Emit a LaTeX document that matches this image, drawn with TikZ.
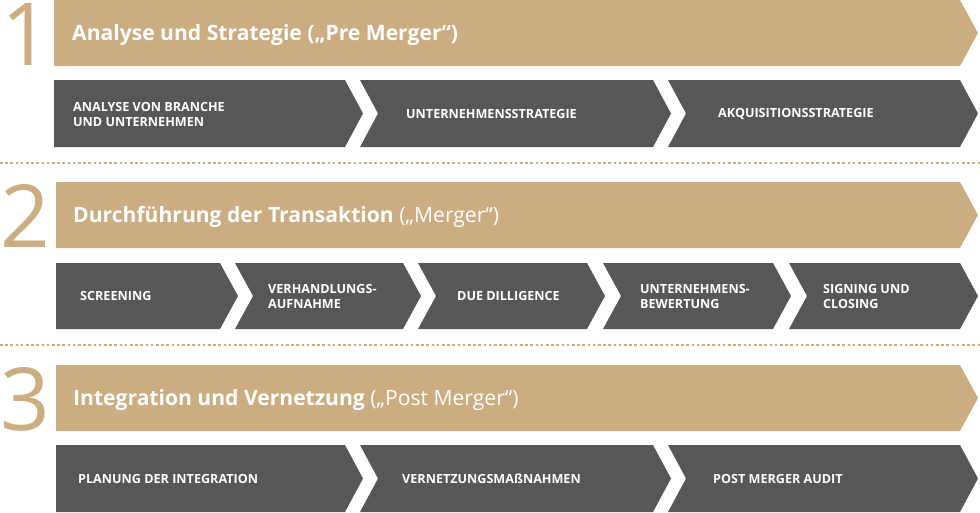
\documentclass[tikz,border=0pt]{standalone}
\usepackage{fontspec}
\setmainfont{Open Sans}
\definecolor{tan}{HTML}{CCAD81}
\definecolor{dgrey}{HTML}{575757}
\begin{document}
\begin{tikzpicture}[x=1pt,y=-1pt,
  banner/.style={fill=tan,draw=none},
  chev/.style={fill=dgrey,draw=none},
  ttl/.style={anchor=base west,inner sep=0pt,text=white,font=\fontsize{21.1}{24}\selectfont},
  lbl/.style={anchor=west,inner sep=0pt,text=white,align=left,font=\fontsize{12.6}{15}\selectfont\bfseries},
  num/.style={anchor=base west,inner sep=0pt,text=tan,font=\fontsize{87}{87}\selectfont},
  dots/.style={tan,line width=2.6pt,dash pattern=on 2.6pt off 2.6pt}]
\useasboundingbox (0,0) rectangle (980,512);
% chevron macro: #1 x-left, #2 x-right, #3 top, #4 bottom, #5 notch (0 or 18)
\newcommand\chevshape[6]{%
  \fill[#6] (#1,#3) -- (#2,#3) -- ({#2+18},{(#3+#4)/2}) -- (#2,#4) -- (#1,#4) -- ({#1+#5},{(#3+#4)/2}) -- cycle;}
% ---------- Row 1
\chevshape{54}{960}{0}{66}{0}{banner}
\node[num] (n1) at (1,65) {1};
\node[ttl] (t1) at (72,40) {\bfseries Analyse und Strategie („Pre Merger“)};
\chevshape{54}{345}{80}{147}{0}{chev}
\chevshape{360}{653}{80}{147}{18}{chev}
\chevshape{668}{960}{80}{147}{18}{chev}
\node[lbl] (a1) at (73,114) {ANALYSE VON BRANCHE\\UND UNTERNEHMEN};
\node[lbl] (a2) at (406,114) {UNTERNEHMENSSTRATEGIE};
\node[lbl] (a3) at (718,114) {AKQUISITIONSSTRATEGIE};
\coordinate (d1l) at (0,163);
\coordinate (d1r) at (980,163);
\draw[dots] (d1l) -- (d1r);
% ---------- Row 2
\chevshape{56}{960}{182}{248}{0}{banner}
\node[num] (n2) at (0,247) {2};
\node[ttl] (t2) at (73,222) {\textbf{Durchführung der Transaktion} („Merger“)};
\chevshape{56}{220}{263}{329}{0}{chev}
\chevshape{235}{403}{263}{329}{18}{chev}
\chevshape{418}{587}{263}{329}{18}{chev}
\chevshape{603}{773}{263}{329}{18}{chev}
\chevshape{789}{960}{263}{329}{18}{chev}
\node[lbl] (b1) at (80,296) {SCREENING};
\node[lbl] (b2) at (268,296) {VERHANDLUNGS-\\AUFNAHME};
\node[lbl] (b3) at (457,296) {DUE DILLIGENCE};
\node[lbl] (b4) at (640,296) {UNTERNEHMENS-\\BEWERTUNG};
\node[lbl] (b5) at (823,296) {SIGNING UND\\CLOSING};
\coordinate (d2l) at (0,345);
\coordinate (d2r) at (980,345);
\draw[dots] (d2l) -- (d2r);
% ---------- Row 3
\chevshape{56}{960}{365}{431}{0}{banner}
\node[num] (n3) at (0,430) {3};
\node[ttl] (t3) at (73,405) {\textbf{Integration und Vernetzung} („Post Merger“)};
\chevshape{56}{345}{445}{512}{0}{chev}
\chevshape{360}{653}{445}{512}{18}{chev}
\chevshape{668}{960}{445}{512}{18}{chev}
\node[lbl] (c1) at (78,479) {PLANUNG DER INTEGRATION};
\node[lbl] (c2) at (402,479) {VERNETZUNGSMAßNAHMEN};
\node[lbl] (c3) at (713,479) {POST MERGER AUDIT};
\end{tikzpicture}
\end{document}
